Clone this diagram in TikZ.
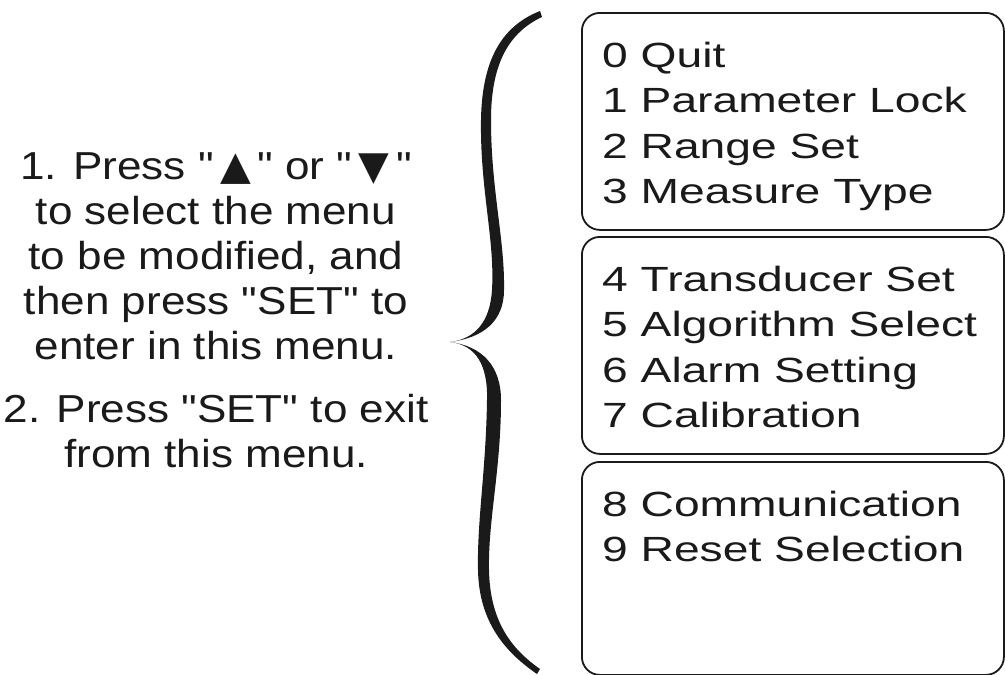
\documentclass[tikz,border=0pt]{standalone}
\usepackage{fontspec}
\usepackage{tikz}
\newfontfamily\helpfont[FakeStretch=1.13]{Liberation Sans}
\newfontfamily\menufont[FakeStretch=1.32]{Liberation Sans}
\newfontfamily\arrowfont{DejaVu Sans}
\definecolor{inkgray}{HTML}{1A1A1A}

\begin{document}
\begin{tikzpicture}[x=1pt, y=-1pt,
    menubox/.style={draw=inkgray, line width=1.8pt, rounded corners=18pt,
      minimum width=422pt, anchor=north west, inner sep=0pt},
    menutext/.style={font=\menufont\fontsize{35}{45.3}\selectfont, align=left,
      anchor=north west, inner sep=0pt, text=inkgray}]
  \useasboundingbox (0,0) rectangle (1005,675);

  % instructions on the left
  \node[font=\helpfont\fontsize{39}{45}\selectfont, align=center, anchor=north,
        inner sep=0pt, text=inkgray] (help) at (216,152) {%
    1. Press "\,{\arrowfont\fontsize{40}{40}\selectfont ▲}\," or "\,{\arrowfont\fontsize{40}{40}\selectfont ▼}\,"\\
    to select the menu\\
    to be modified, and\\
    then press "SET" to\\
    enter in this menu.\\[18pt]
    2. Press "SET" to exit\\
    from this menu.};

  % curly brace
  \fill[inkgray] (540,11) .. controls (505,25) and (482,55) .. (481,120)
    .. controls (480,190) and (495,240) .. (492,290)
    .. controls (490,322) and (475,339) .. (450,342)
    .. controls (476,345) and (488,365) .. (487,400)
    .. controls (486,470) and (477,520) .. (478,570)
    .. controls (479,622) and (505,652) .. (537,674)
    -- (540,669)
    .. controls (510,648) and (490,620) .. (489,570)
    .. controls (488,520) and (501,470) .. (501,400)
    .. controls (501,366) and (482,346) .. (450,342)
    .. controls (482,338) and (504,322) .. (504,290)
    .. controls (505,240) and (491,190) .. (491,120)
    .. controls (491,62) and (510,32) .. (542,17) -- cycle;

  % menu boxes
  \node[menubox, minimum height=217pt] (menu1) at (581,12) {};
  \node[menubox, minimum height=217pt] (menu2) at (581,236) {};
  \node[menubox, minimum height=213pt] (menu3) at (581,461) {};

  \node[menutext] (items1) at ([shift={(21,30)}]menu1.north west) {%
    0 Quit\\
    1 Parameter Lock\\
    2 Range Set\\
    3 Measure Type};
  \node[menutext] (items2) at ([shift={(21,30)}]menu2.north west) {%
    4 Transducer Set\\
    5 Algorithm Select\\
    6 Alarm Setting\\
    7 Calibration};
  \node[menutext] (items3) at ([shift={(21,30)}]menu3.north west) {%
    8 Communication\\
    9 Reset Selection};
\end{tikzpicture}
\end{document}
